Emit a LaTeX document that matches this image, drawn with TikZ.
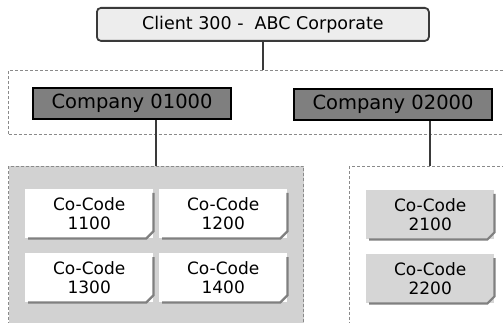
\documentclass[tikz,border=0pt]{standalone}
\usepackage{fontspec}
\setmainfont{DejaVu Sans}
\definecolor{clientfill}{HTML}{EDEDED}
\definecolor{compfill}{HTML}{7F7F7F}
\definecolor{grpfill}{HTML}{D2D2D2}
\definecolor{ccfill}{HTML}{D6D6D6}
\definecolor{dashgray}{HTML}{8A8A8A}
\definecolor{linegray}{HTML}{3A3A3A}
\tikzset{
  grpbox/.style={shape=rectangle, draw=dashgray, dash pattern=on 3pt off 2pt, line width=1pt, anchor=north west},
  compbox/.style={shape=rectangle, draw=black, fill=compfill, line width=2pt, anchor=north west,
    minimum width=198pt, minimum height=31pt, font=\fontsize{19.5}{22}\selectfont},
  cocode/.style={shape=rectangle, draw=none, anchor=north west, align=center,
    minimum width=128pt, minimum height=49pt, font=\fontsize{17}{19}\selectfont},
  ccshadow/.style={draw=gray, line width=2.2pt},
  link/.style={draw=linegray, line width=2pt}
}
\begin{document}
\begin{tikzpicture}[x=1pt,y=-1pt]
%%%%%%%%%%%%%%%%%%%%%%%%%%%%%%%%%%%%%%%%%%% HELP LINES
%\draw[help lines] (0,0) grid +(503,323);
\clip (0,0) rectangle (503,323);

%%%%%%%%%%%%%%%%%%%%%%%%%%%%%%%%%%%%%%%%%%% groups
\node[grpbox, minimum width=505pt, minimum height=64pt](compgrp) at (8,70) {};
\node[grpbox, fill=grpfill, minimum width=295pt, minimum height=165pt](grpA) at (8,166) {};
\node[grpbox, fill=white, minimum width=160pt, minimum height=165pt](grpB) at (349,166) {};

%%%%%%%%%%%%%%%%%%%%%%%%%%%%%%%%%%%%%%%%%%% client and companies
\node[shape=rectangle, rounded corners=4pt, draw=linegray, fill=clientfill, line width=1.8pt, anchor=north west,
  minimum width=332pt, minimum height=33pt, font=\fontsize{17.5}{20}\selectfont](client) at (96,7) {Client 300 -\ \ ABC Corporate};
\node[compbox](comp1) at (32,87) {Company 01000};
\node[compbox](comp2) at (293,88) {Company 02000};

\draw[link] (client.south) -- (client.south |- compgrp.north);
\draw[link] (grpA.north) -- (grpA.north |- comp1.south);
\draw[link] (grpB.north) -- (grpB.north |- comp2.south);

%%%%% company codes
\node[cocode, fill=white](cc1100) at (25,189) {Co-Code\\1100};
\node[cocode, fill=white](cc1200) at (159,189) {Co-Code\\1200};
\node[cocode, fill=white](cc1300) at (25,253) {Co-Code\\1300};
\node[cocode, fill=white](cc1400) at (159,253) {Co-Code\\1400};
\node[cocode, fill=ccfill](cc2100) at (366,190) {Co-Code\\2100};
\node[cocode, fill=ccfill](cc2200) at (366,254) {Co-Code\\2200};

\foreach \n in {cc1100,cc1200,cc1300,cc1400,cc2100,cc2200}
  \draw[ccshadow] ([yshift=-4pt]\n.north east) -- ([yshift=7pt]\n.south east)
    -- ([xshift=-7pt]\n.south east) -- ([xshift=3pt]\n.south west);
\end{tikzpicture}
\end{document}
